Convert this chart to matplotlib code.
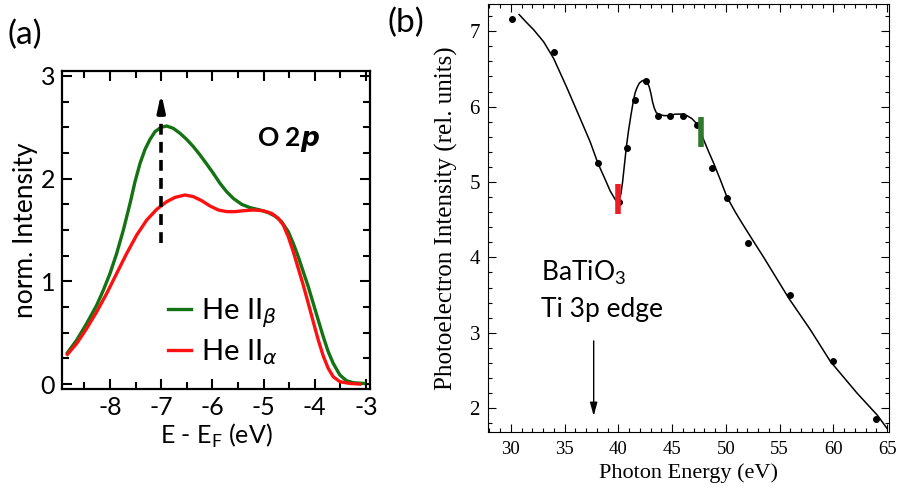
import matplotlib
matplotlib.use("Agg")
import matplotlib.pyplot as plt
from matplotlib.ticker import MultipleLocator

plt.rcParams["axes.unicode_minus"] = False

# ---- panel (a): O 2p valence band ----
e_beta = [-8.833, -8.651, -8.456, -8.260, -8.130, -8.0, -7.870, -7.740, -7.609, -7.512,
          -7.414, -7.316, -7.219, -7.121, -7.004, -6.893, -6.763, -6.633, -6.503, -6.372,
          -6.242, -6.112, -5.982, -5.852, -5.721, -5.591, -5.428, -5.266, -5.070, -4.907,
          -4.777, -4.647, -4.517, -4.419, -4.322, -4.224, -4.126, -4.029, -3.931, -3.833,
          -3.736, -3.638, -3.508, -3.378, -3.247, -3.039]
i_beta = [0.305, 0.429, 0.591, 0.769, 0.916, 1.078, 1.273, 1.500, 1.760, 1.971,
          2.149, 2.286, 2.383, 2.458, 2.500, 2.513, 2.490, 2.442, 2.383, 2.312,
          2.231, 2.143, 2.052, 1.955, 1.873, 1.808, 1.750, 1.718, 1.695, 1.669,
          1.636, 1.581, 1.484, 1.370, 1.240, 1.094, 0.948, 0.786, 0.623, 0.461,
          0.315, 0.201, 0.088, 0.032, 0.013, 0.006]

e_alpha = [-8.833, -8.651, -8.456, -8.260, -8.065, -7.870, -7.674, -7.479, -7.284, -7.089,
           -6.893, -6.730, -6.535, -6.372, -6.210, -6.047, -5.884, -5.721, -5.559, -5.396,
           -5.201, -5.005, -4.842, -4.712, -4.615, -4.517, -4.419, -4.322, -4.224, -4.126,
           -4.029, -3.931, -3.833, -3.736, -3.638, -3.508, -3.313, -3.117]
i_alpha = [0.289, 0.396, 0.542, 0.705, 0.883, 1.078, 1.273, 1.451, 1.597, 1.701,
           1.776, 1.818, 1.841, 1.825, 1.786, 1.734, 1.695, 1.679, 1.679, 1.688,
           1.695, 1.688, 1.662, 1.614, 1.549, 1.435, 1.289, 1.127, 0.964, 0.786,
           0.607, 0.429, 0.273, 0.153, 0.071, 0.023, 0.006, 0.0]

# ---- panel (b): resonant photoemission ----
hv_pts = [30.1, 34.0, 38.1, 40.1, 40.8, 41.5, 42.6, 43.7, 44.8, 46.0, 47.3,
          48.7, 50.1, 52.1, 56.0, 60.0, 64.0]
int_pts = [7.16, 6.72, 5.25, 4.74, 5.45, 6.09, 6.34, 5.88, 5.88, 5.88, 5.75,
           5.19, 4.79, 4.19, 3.50, 2.62, 1.86]

hv_fit = [30.77, 31.49, 32.11, 33.04, 33.97, 35.21, 36.45, 37.38, 38.09, 38.78,
          39.24, 39.65, 39.86, 40.08, 40.24, 40.39, 40.57, 40.73, 40.92, 41.17,
          41.41, 41.57, 41.73, 41.94, 42.19, 42.41, 42.66, 42.87, 43.03, 43.18,
          43.34, 43.52, 43.74, 44.21, 44.67, 45.29, 45.91, 46.38, 46.84, 47.31,
          47.62, 47.93, 48.40, 48.86, 49.48, 50.10, 50.88, 51.65, 52.58, 53.52,
          55.84, 57.86, 59.72, 62.2, 64.07, 65.0]
int_fit = [7.22, 7.11, 7.02, 6.86, 6.64, 6.25, 5.84, 5.53, 5.25, 5.03,
           4.88, 4.78, 4.74, 4.76, 4.85, 5.00, 5.24, 5.45, 5.66, 5.89,
           6.09, 6.19, 6.25, 6.31, 6.34, 6.35, 6.33, 6.26, 6.17, 6.06,
           5.98, 5.92, 5.90, 5.88, 5.88, 5.90, 5.90, 5.88, 5.84, 5.77,
           5.69, 5.56, 5.40, 5.25, 5.03, 4.80, 4.60, 4.42, 4.21, 4.00,
           3.46, 3.04, 2.62, 2.20, 1.91, 1.73]

sans = ["Lato", "DejaVu Sans"]
serif = ["Liberation Serif", "DejaVu Serif"]

fig = plt.figure(figsize=(8.98, 4.92), dpi=100)

ax = fig.add_axes([0.069, 0.210, 0.343, 0.646])
ax.plot(e_beta, i_beta, color="#137313", lw=2.4, label=r"He II$_\beta$")
ax.plot(e_alpha, i_alpha, color="#ff1010", lw=2.4, label=r"He II$_\alpha$")
ax.plot([-7, -7], [1.37, 2.62], color="black", lw=2.6, ls=(0, (3, 2)))
ax.annotate("", xy=(-7, 2.86), xytext=(-7, 2.60),
            arrowprops=dict(arrowstyle="-|>,head_width=0.22,head_length=1.0",
                            color="black", lw=2.5))
ax.text(-4.52, 2.38, r"O 2$\boldsymbol{p}$", fontsize=19, fontweight="bold",
        family=sans, ha="center", va="center")
ax.set_xlim(-8.94, -2.92)
ax.set_ylim(-0.045, 3.05)
ax.xaxis.set_major_locator(MultipleLocator(1))
ax.xaxis.set_minor_locator(MultipleLocator(0.5))
ax.yaxis.set_major_locator(MultipleLocator(1))
ax.yaxis.set_minor_locator(MultipleLocator(0.25))
ax.tick_params(which="both", direction="in", top=True, right=True, width=1.5)
ax.tick_params(which="major", length=7, labelsize=18, pad=5)
ax.tick_params(which="minor", length=5)
for lab in ax.get_xticklabels() + ax.get_yticklabels():
    lab.set_family(sans)
for s in ax.spines.values():
    s.set_linewidth(1.6)
ax.set_xlabel(r"E - E$_\mathregular{F}$ (eV)", fontsize=18, family=sans, labelpad=2)
ax.set_ylabel("norm. Intensity", fontsize=19, family=sans, labelpad=2)
leg = ax.legend(loc="center left", bbox_to_anchor=(0.258, 0.18), frameon=False,
                prop={"family": sans, "size": 21}, handlelength=0.8,
                handletextpad=0.35, labelspacing=0.25)
fig.text(0.008, 0.929, "(a)", fontsize=24, family=sans, va="center")

bx = fig.add_axes([0.5438, 0.1213, 0.4465, 0.8705])
bx.plot(hv_fit, int_fit, color="black", lw=1.1)
bx.plot(hv_pts, int_pts, "o", color="black", ms=4)
bx.plot([40.0, 40.0], [4.57, 4.97], color="#ee1c24", lw=4, solid_capstyle="butt")
bx.plot([47.7, 47.7], [5.46, 5.86], color="#2f7a2f", lw=4, solid_capstyle="butt")
bx.annotate("", xy=(37.7, 1.86), xytext=(37.7, 2.93),
            arrowprops=dict(arrowstyle="-|>,head_width=0.22,head_length=0.8",
                            color="black", lw=1))
bx.text(32.82, 3.79, r"BaTiO$_\mathregular{3}$", fontsize=19, family=sans, va="center")
bx.text(32.82, 3.31, "Ti 3p edge", fontsize=19, family=sans, va="center")
bx.set_xlim(27.9, 65.2)
bx.set_ylim(1.68, 7.36)
bx.xaxis.set_major_locator(MultipleLocator(5))
bx.xaxis.set_minor_locator(MultipleLocator(1))
bx.yaxis.set_major_locator(MultipleLocator(1))
bx.yaxis.set_minor_locator(MultipleLocator(0.2))
bx.tick_params(which="both", direction="in", top=True, right=True, width=0.8)
bx.tick_params(which="major", length=6, pad=6)
bx.tick_params(which="minor", length=3)
bx.tick_params(axis="x", labelsize=13.5)
bx.tick_params(axis="y", labelsize=15)
for lab in bx.get_xticklabels() + bx.get_yticklabels():
    lab.set_family(serif)
bx.set_xlabel("Photon Energy (eV)", fontsize=16, family=serif, labelpad=4)
bx.set_ylabel("Photoelectron Intensity (rel. units)", fontsize=18, family=serif,
              labelpad=8)
fig.text(0.432, 0.953, "(b)", fontsize=24, family=sans, va="center")

fig.savefig("out.png", dpi=100)
